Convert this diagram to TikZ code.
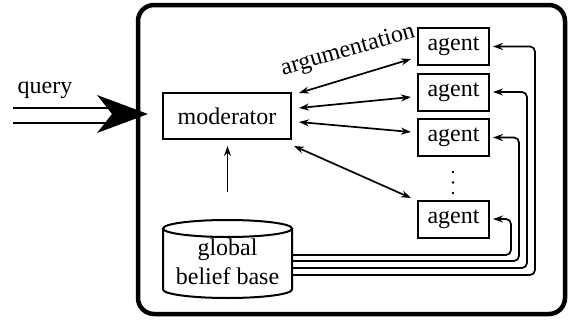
\documentclass[tikz,border=0pt]{standalone}
\usepackage{fontspec}
\setmainfont{Liberation Serif}
\usetikzlibrary{arrows.meta,calc}
\begin{document}
\begin{tikzpicture}[x=1pt,y=-1pt,font=\fontsize{24}{28}\selectfont,
  box/.style={draw,line width=2pt,inner sep=0pt},
  agentbox/.style={box,minimum width=71pt,minimum height=37pt},
  arr/.style={line width=1.7pt,-{Stealth[length=10pt,width=7pt]}},
  darr/.style={line width=1.7pt,{Stealth[length=10pt,width=7pt]}-{Stealth[length=10pt,width=7pt]}},
  feed/.style={arr,rounded corners=5pt}]
\useasboundingbox (0,0) rectangle (571,324);
% outer frame
\draw[line width=4.5pt,rounded corners=16pt] (138,5) rectangle (565,314);
% query arrow
\coordinate (qs) at (13,115);
\coordinate (qt) at (148,114);
\node (qlabel) at (45,90) {query};
\draw[double,double distance=13pt,line width=2pt] (qs) -- (112,115);
\fill (97,95) -- (qt) -- (97,133) -- (112,114) -- cycle;
% nodes
\node[box,minimum width=128pt,minimum height=46pt] (mod) at (227,116) {moderator};
\node[agentbox] (a1) at (453.5,46.5) {agent};
\node[agentbox] (a2) at (453.5,92) {agent};
\node[agentbox] (a3) at (453.5,137.5) {agent};
\node[agentbox] (a4) at (453.5,219) {agent};
\fill (453,172) circle[radius=1.4] (453,182.5) circle[radius=1.4] (453,193) circle[radius=1.4];
\node[rotate=16,inner sep=0pt] (argl) at (348,51) {argumentation};
% cylinder
\node[inner sep=0pt,minimum width=129pt,align=center,font=\fontsize{24}{29}\selectfont] (gbb) at (227.5,262) {global\\belief base};
\draw[line width=2pt] (163,228.5) -- (163,289.5) arc[start angle=180,end angle=0,x radius=64.5,y radius=8.5] -- (292,228.5);
\draw[line width=2pt] (227.5,228.5) ellipse[x radius=64.5,y radius=8.5];
% argumentation arrows
\draw[darr] ($(mod.east)+(7,-23)$) -- ($(a1.west)+(-6,12.5)$);
\draw[darr] ($(mod.east)+(7,-8)$) -- ($(a2.west)+(-6,5)$);
\draw[darr] ($(mod.east)+(7,6)$) -- ($(a3.west)+(-6,-5.5)$);
\draw[darr] ($(mod.south east)+(2,6)$) -- ($(a4.north west)+(-6,-1.5)$);
% belief base to moderator
\draw[arr] (227.5,192) -- ($(mod.south)+(0.5,6)$);
% belief base to agents
\draw[feed] ($(gbb.east)+(0,-7)$) -| ($(a4.east)+(21,0)$) -- ($(a4.east)+(3,0)$);
\draw[feed] ($(gbb.east)+(0,-1)$) -| ($(a3.east)+(29,0)$) -- ($(a3.east)+(3,0)$);
\draw[feed] ($(gbb.east)+(0,6)$) -| ($(a2.east)+(37,0)$) -- ($(a2.east)+(3,0)$);
\draw[feed] ($(gbb.east)+(0,13)$) -| ($(a1.east)+(45,0)$) -- ($(a1.east)+(3,0)$);
\end{tikzpicture}
\end{document}
